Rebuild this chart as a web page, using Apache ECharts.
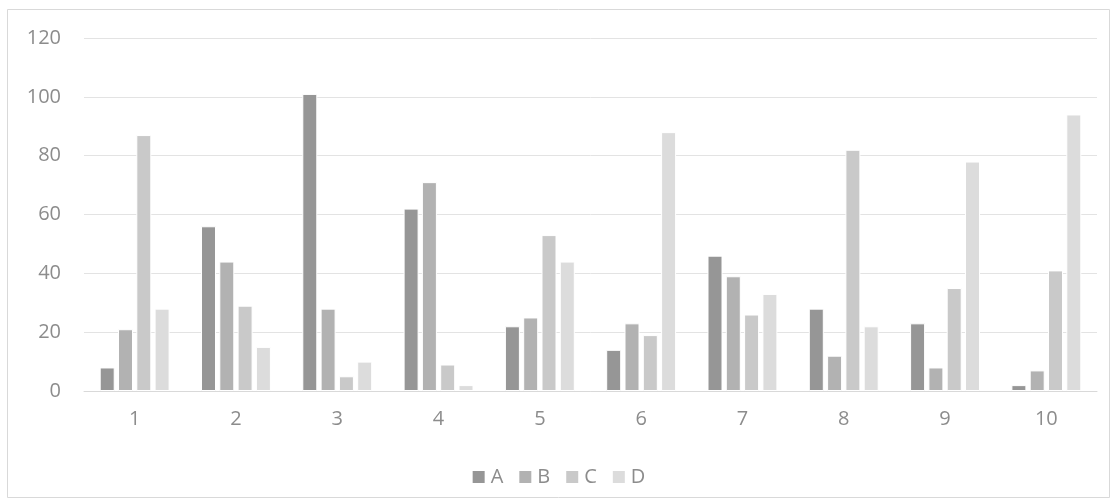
<!DOCTYPE html>
<html>
<head>
<meta charset="utf-8">
<script src="https://cdn.jsdelivr.net/npm/echarts@6/dist/echarts.min.js"></script>
<style>
  html, body { margin: 0; padding: 0; background: #ffffff; }
  #chart { width: 1116px; height: 504px; }
</style>
</head>
<body>
<div id="chart"></div>
<script>
// Categories along the x axis
const categories = ['1', '2', '3', '4', '5', '6', '7', '8', '9', '10'];

// Series values, one per category
const seriesA = [8, 56, 101, 62, 22, 14, 46, 28, 23, 2];
const seriesB = [21, 44, 28, 71, 25, 23, 39, 12, 8, 7];
const seriesC = [87, 29, 5, 9, 53, 19, 26, 82, 35, 41];
const seriesD = [28, 15, 10, 2, 44, 88, 33, 22, 78, 94];

const seriesNames = ['A', 'B', 'C', 'D'];
const seriesColors = ['#969696', '#b2b2b2', '#c9c9c9', '#dcdcdc'];

const textColor = '#8c8c8c';
const fontFamily = '"Open Sans", "Liberation Sans", sans-serif';
const fontSize = 20;

const chart = echarts.init(document.getElementById('chart'), null, { renderer: 'canvas' });

const makeBar = (name, data, color) => ({
  name: name,
  type: 'bar',
  data: data,
  barWidth: 15,
  barGap: '22%',
  itemStyle: { color: color, borderColor: '#ffffff', borderWidth: 1 },
  emphasis: { disabled: true }
});

chart.setOption({
  animation: false,
  backgroundColor: '#ffffff',
  textStyle: { fontFamily: fontFamily },
  graphic: [{
    type: 'rect',
    shape: { x: 7.5, y: 9.5, width: 1102, height: 488 },
    style: { fill: 'none', stroke: '#d9d9d9', lineWidth: 1 },
    silent: true,
    z: -1
  }],
  grid: { left: 84, right: 19, top: 38, bottom: 113, containLabel: false },
  legend: {
    data: seriesNames,
    top: 462,
    left: 'center',
    itemWidth: 14,
    itemHeight: 14,
    itemGap: 14,
    icon: 'rect',
    textStyle: { color: textColor, fontSize: fontSize, fontFamily: fontFamily, padding: [0, 0, 0, 0] }
  },
  xAxis: {
    type: 'category',
    data: categories,
    axisLine: { show: true, lineStyle: { color: '#d9d9d9', width: 1 } },
    axisTick: { show: false },
    axisLabel: { color: textColor, fontSize: fontSize, margin: 18, fontFamily: fontFamily }
  },
  yAxis: {
    type: 'value',
    min: 0,
    max: 120,
    interval: 20,
    axisLine: { show: false },
    axisTick: { show: false },
    splitLine: { lineStyle: { color: '#e3e3e3', width: 1 } },
    axisLabel: { color: textColor, fontSize: fontSize, margin: 23, fontFamily: fontFamily }
  },
  series: [
    makeBar(seriesNames[0], seriesA, seriesColors[0]),
    makeBar(seriesNames[1], seriesB, seriesColors[1]),
    makeBar(seriesNames[2], seriesC, seriesColors[2]),
    makeBar(seriesNames[3], seriesD, seriesColors[3])
  ]
});
</script>
</body>
</html>
